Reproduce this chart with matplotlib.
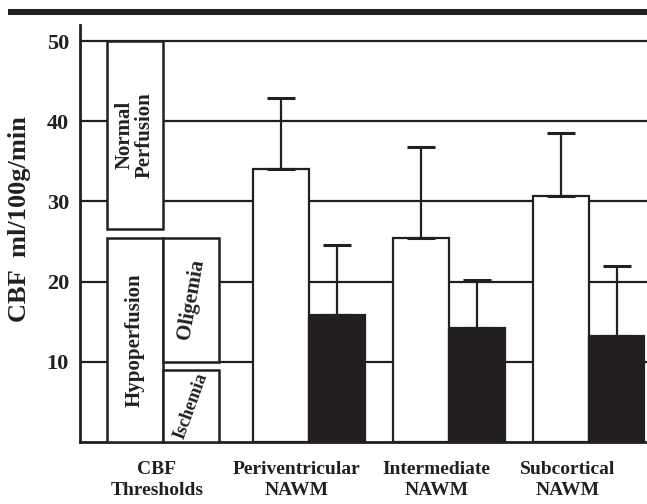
import matplotlib.pyplot as plt
from matplotlib.patches import Rectangle

plt.rcParams['font.family'] = ['Liberation Serif', 'DejaVu Serif']
plt.rcParams['font.weight'] = 'bold'

categories = ['CBF\nThresholds', 'Periventricular\nNAWM', 'Intermediate\nNAWM', 'Subcortical\nNAWM']
white_vals = [34.1, 25.5, 30.7]
white_err = [8.8, 11.3, 7.8]
black_vals = [15.8, 14.2, 13.2]
black_err = [8.8, 6.0, 8.8]

# thresholds: (label, low, high, column)
thresholds = [('Normal\nPerfusion', 26.5, 50, 0),
              ('Hypoperfusion', 0, 25.5, 0),
              ('Oligemia', 10, 25.5, 1),
              ('Ischemia', 0, 9, 1)]
yticks = [10, 20, 30, 40, 50]

fig = plt.figure(figsize=(6.47, 5.04), dpi=100)
ax = fig.add_axes([80/647, 62/504, 567/647, 417/504])

ink = '#231f20'
w = 0.4
for y in yticks:
    ax.axhline(y, color=ink, lw=1.6, zorder=0)

pos = [1, 2, 3]
ax.bar([p - w/2 for p in pos], white_vals, w, color='white', edgecolor=ink, lw=1.6,
       yerr=[[0]*3, white_err], error_kw=dict(ecolor=ink, elinewidth=1.6, capsize=10, capthick=2.2), zorder=2)
ax.bar([p + w/2 for p in pos], black_vals, w, color=ink, edgecolor=ink, lw=1.6,
       yerr=[[0]*3, black_err], error_kw=dict(ecolor=ink, elinewidth=1.6, capsize=10, capthick=2.2), zorder=2)

tx = -0.045
rot = {'Normal\nPerfusion': 90, 'Hypoperfusion': 90, 'Oligemia': 80, 'Ischemia': 70}
fs = {'Normal\nPerfusion': 15, 'Hypoperfusion': 15, 'Oligemia': 15, 'Ischemia': 13}
for lab, lo, hi, col in thresholds:
    x0 = tx - w + col*w
    ax.add_patch(Rectangle((x0, lo), w, hi - lo, facecolor='white', edgecolor=ink, lw=1.8, zorder=3))
    ax.text(x0 + w/2, (lo + hi)/2, lab, rotation=rot[lab], ha='center', va='center',
            fontsize=fs[lab], fontweight='bold', color=ink, zorder=4, linespacing=1.0)

ax.set_xlim(-0.639, 3.418)
ax.set_ylim(0, 52)
ax.set_yticks(yticks)
ax.set_xticks([-0.09, 0.91, 1.91, 2.85])
ax.set_xticklabels(categories, fontsize=14, fontweight='bold', linespacing=1.3)
ax.tick_params(axis='both', length=0, colors=ink)
ax.tick_params(axis='x', pad=14)
ax.tick_params(axis='y', pad=8, labelsize=16)
for t in ax.get_yticklabels():
    t.set_fontweight('bold')
ax.set_ylabel('CBF  ml/100g/min', fontsize=19, fontweight='bold', color=ink)
ax.yaxis.set_label_coords(-0.087, 0.535)
for s in ['top', 'right']:
    ax.spines[s].set_visible(False)
for s in ['left', 'bottom']:
    ax.spines[s].set_linewidth(2.0)
    ax.spines[s].set_color(ink)

# thick rule across the top
fig.add_artist(Rectangle((8/647, 1 - 15/504), 1, 6/504, transform=fig.transFigure,
                         facecolor=ink, edgecolor='none'))

fig.savefig('out.png', dpi=100)
